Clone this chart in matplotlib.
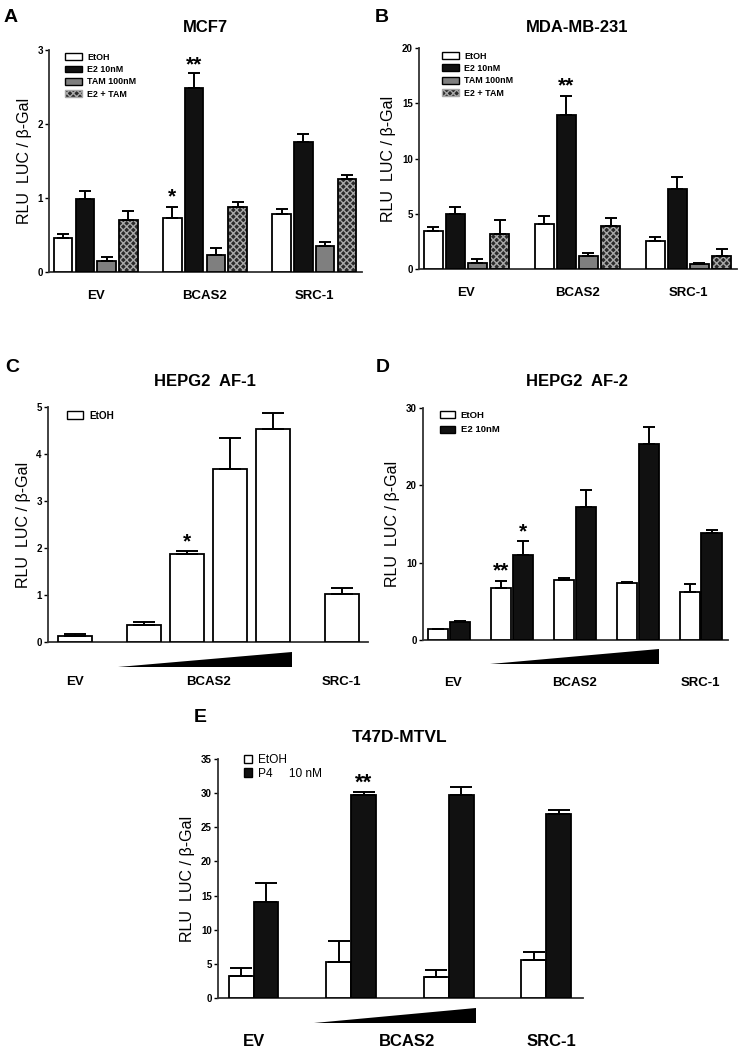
import numpy as np
import matplotlib
matplotlib.use("Agg")
import matplotlib.pyplot as plt
from matplotlib.patches import Patch, Polygon
from matplotlib.transforms import blended_transform_factory

plt.rcParams['font.family'] = ['Liberation Sans', 'DejaVu Sans']
plt.rcParams['hatch.linewidth'] = 1.0

# ---------------- data ----------------
groups3 = ['EV', 'BCAS2', 'SRC-1']
series_AB = ['EtOH', 'E2 10nM', 'TAM 100nM', 'E2 + TAM']

A_EtOH = [0.46, 0.73, 0.78];   A_EtOH_err = [0.05, 0.145, 0.07]
A_E2 = [0.98, 2.48, 1.76];     A_E2_err = [0.12, 0.21, 0.10]
A_TAM = [0.15, 0.23, 0.35];    A_TAM_err = [0.05, 0.09, 0.06]
A_E2TAM = [0.70, 0.875, 1.26]; A_E2TAM_err = [0.13, 0.075, 0.05]

B_EtOH = [3.47, 4.07, 2.56];   B_EtOH_err = [0.30, 0.70, 0.37]
B_E2 = [5.0, 13.97, 7.24];     B_E2_err = [0.60, 1.73, 1.06]
B_TAM = [0.54, 1.2, 0.45];     B_TAM_err = [0.40, 0.25, 0.09]
B_E2TAM = [3.2, 3.92, 1.2];    B_E2TAM_err = [1.26, 0.67, 0.64]

C_labels = ['EV', 'BCAS2', 'BCAS2', 'BCAS2', 'BCAS2', 'SRC-1']
C_EtOH = [0.12, 0.37, 1.87, 3.68, 4.54, 1.02]
C_EtOH_err = [0.04, 0.05, 0.06, 0.66, 0.33, 0.13]

D_labels = ['EV', 'BCAS2', 'BCAS2', 'BCAS2', 'SRC-1']
D_EtOH = [1.38, 6.78, 7.81, 7.34, 6.26]; D_EtOH_err = [0.05, 0.86, 0.17, 0.16, 0.94]
D_E2 = [2.37, 10.96, 17.26, 25.4, 13.9]; D_E2_err = [0.05, 1.84, 2.14, 2.2, 0.34]

E_labels = ['EV', 'BCAS2', 'BCAS2', 'SRC-1']
E_EtOH = [3.28, 5.29, 3.13, 5.53]; E_EtOH_err = [1.12, 3.08, 0.93, 1.22]
E_P4 = [14.1, 29.66, 29.66, 27.0]; E_P4_err = [2.7, 0.44, 1.24, 0.46]

DARK = '#111111'
GRAY = '#7f7f7f'

fig = plt.figure(figsize=(7.45, 10.59), dpi=100)
W, H = 745.0, 1059.0


def ax_px(l, t, r, b):
    return fig.add_axes([l / W, 1 - b / H, (r - l) / W, (b - t) / H])


def style(ax, yticks, ylim, xlim):
    for s in ['top', 'right']:
        ax.spines[s].set_visible(False)
    for s in ['left', 'bottom']:
        ax.spines[s].set_linewidth(1.3)
        ax.spines[s].set_color('#333333')
    ax.set_ylim(*ylim)
    ax.set_xlim(*xlim)
    ax.set_yticks(yticks)
    ax.set_yticklabels([str(t) for t in yticks], fontsize=7, fontweight='bold')
    ax.tick_params(axis='y', length=3, width=1.0, pad=1.5, direction='out')
    ax.set_xticks([])
    ax.set_ylabel('RLU  LUC / \u03b2-Gal', fontsize=11.5, labelpad=4)


def bars(ax, x, v, err, w, fc, cap, lw=1.3, hatch=None):
    if hatch:
        ax.bar(x, v, w, color='#2a2a2a', edgecolor='#a8a8a8', linewidth=0, hatch=hatch, zorder=2)
        ax.bar(x, v, w, color='none', edgecolor='black', linewidth=lw,
               yerr=[np.zeros(len(v)), err], capsize=cap,
               error_kw=dict(elinewidth=1.4, capthick=1.4, ecolor='black'), zorder=3)
    else:
        ax.bar(x, v, w, color=fc, edgecolor='black', linewidth=lw,
               yerr=[np.zeros(len(v)), err], capsize=cap,
               error_kw=dict(elinewidth=1.4, capthick=1.4, ecolor='black'), zorder=3)


def wedge(ax, x0, x1, y0, y1):
    tr = blended_transform_factory(ax.transData, ax.transAxes)
    p = Polygon([[x0, y0], [x1, y0], [x1, y1]], closed=True, transform=tr,
                facecolor='black', edgecolor='none', clip_on=False)
    ax.add_patch(p)


def cat_labels(ax, xs, labels, y, fs):
    tr = blended_transform_factory(ax.transData, ax.transAxes)
    for xx, lab in zip(xs, labels):
        ax.text(xx, y, lab, transform=tr, ha='center', va='center',
                fontsize=fs, fontweight='bold')


def legend(ax, handles, labels, anchor, size, weight, hl, hh, ls, htp=0.6):
    ax.legend(handles, labels, loc='upper left', bbox_to_anchor=anchor,
              frameon=False, prop=dict(size=size, weight=weight),
              handlelength=hl, handleheight=hh, labelspacing=ls,
              handletextpad=htp, borderpad=0, borderaxespad=0)


def panel_AB(ax, vals, errs, title, yticks, star_items, letter, lpos, tpos, lanchor):
    gx = np.arange(3) * 5.03
    fcs = ['white', DARK, GRAY, None]
    for j in range(4):
        bars(ax, gx + j, vals[j], errs[j], 0.85, fcs[j], 4.5,
             hatch='xxxxx' if j == 3 else None)
    style(ax, yticks, (0, yticks[-1]), (-0.65, gx[-1] + 3.7))
    handles = [Patch(facecolor='white', edgecolor='black', linewidth=1.0),
               Patch(facecolor=DARK, edgecolor='black', linewidth=1.0),
               Patch(facecolor=GRAY, edgecolor='black', linewidth=1.0),
               Patch(facecolor='#2a2a2a', edgecolor='#a8a8a8', hatch='xxxxx', linewidth=1.0)]
    legend(ax, handles, series_AB, lanchor, 6.4, 'bold', 1.9, 0.8, 0.38)
    cat_labels(ax, gx + 1.5, groups3, -0.11, 9.5)
    for (xx, yy, s) in star_items:
        ax.text(xx, yy, s, ha='center', va='center', fontsize=15, fontweight='bold')
    fig.text(tpos[0] / W, 1 - tpos[1] / H, title, ha='center', va='center',
             fontsize=12, fontweight='bold')
    fig.text(lpos[0] / W, 1 - lpos[1] / H, letter, ha='center', va='center',
             fontsize=14, fontweight='bold')


# ---------------- Panel A ----------------
axA = ax_px(49, 50, 362, 272)
gxA = np.arange(3) * 5.03
panel_AB(axA, [A_EtOH, A_E2, A_TAM, A_E2TAM],
         [A_EtOH_err, A_E2_err, A_TAM_err, A_E2TAM_err],
         'MCF7', [0, 1, 2, 3],
         [(gxA[1], 1.02, '*'), (gxA[1] + 1, 2.80, '**')],
         'A', (11, 17), (205, 28), (0.051, 0.988))

# ---------------- Panel B ----------------
axB = ax_px(419, 48, 737, 269)
panel_AB(axB, [B_EtOH, B_E2, B_TAM, B_E2TAM],
         [B_EtOH_err, B_E2_err, B_TAM_err, B_E2TAM_err],
         'MDA-MB-231', [0, 5, 10, 15, 20],
         [(gxA[1] + 1, 16.6, '**')],
         'B', (382, 17), (577, 27), (0.072, 0.984))

# ---------------- Panel C ----------------
axC = ax_px(48, 407, 368, 642)
xC = np.array([0, 1.6, 2.6, 3.6, 4.6, 6.2])
bars(axC, xC, C_EtOH, C_EtOH_err, 0.8, 'white', 8)
style(axC, [0, 1, 2, 3, 4, 5], (0, 5), (-0.63, 6.81))
legend(axC, [Patch(facecolor='white', edgecolor='black', linewidth=1.0)], ['EtOH'],
       (0.06, 0.985), 7.2, 'bold', 1.6, 0.8, 0.6)
wedge(axC, xC[1] - 0.6, xC[4] + 0.45, -0.106, -0.043)
cat_labels(axC, [xC[0], (xC[1] + xC[4]) / 2, xC[5]], ['EV', 'BCAS2', 'SRC-1'], -0.17, 9.5)
axC.text(xC[2], 2.13, '*', ha='center', va='center', fontsize=15, fontweight='bold')
fig.text(205 / W, 1 - 382 / H, 'HEPG2  AF-1', ha='center', va='center', fontsize=12, fontweight='bold')
fig.text(12 / W, 1 - 367 / H, 'C', ha='center', va='center', fontsize=14, fontweight='bold')

# ---------------- Panel D ----------------
axD = ax_px(423, 408, 728, 640)
gD = np.arange(5) * 3.0
bars(axD, gD - 0.52, D_EtOH, D_EtOH_err, 0.97, 'white', 4.5)
bars(axD, gD + 0.52, D_E2, D_E2_err, 0.97, DARK, 4.5)
style(axD, [0, 10, 20, 30], (0, 30), (-1.25, 13.3))
legend(axD, [Patch(facecolor='white', edgecolor='black', linewidth=1.0),
             Patch(facecolor=DARK, edgecolor='black', linewidth=1.0)], ['EtOH', 'E2 10nM'],
       (0.056, 0.988), 6.8, 'bold', 1.6, 0.8, 0.6)
wedge(axD, gD[1] - 1.05, gD[3] + 1.0, -0.104, -0.04)
cat_labels(axD, [gD[0] + 0.2, gD[2], gD[4]], ['EV', 'BCAS2', 'SRC-1'], -0.185, 9.5)
axD.text(gD[1] - 0.52, 9.0, '**', ha='center', va='center', fontsize=15, fontweight='bold')
axD.text(gD[1] + 0.52, 14.0, '*', ha='center', va='center', fontsize=15, fontweight='bold')
fig.text(577 / W, 1 - 382 / H, 'HEPG2  AF-2', ha='center', va='center', fontsize=12, fontweight='bold')
fig.text(383 / W, 1 - 367 / H, 'D', ha='center', va='center', fontsize=14, fontweight='bold')

# ---------------- Panel E ----------------
axE = ax_px(218, 759, 583, 998)
gE = np.arange(4) * 3.92
bars(axE, gE - 0.5, E_EtOH, E_EtOH_err, 1.0, 'white', 8)
bars(axE, gE + 0.5, E_P4, E_P4_err, 1.0, DARK, 8)
style(axE, [0, 5, 10, 15, 20, 25, 30, 35], (0, 35), (-1.43, 13.24))
legend(axE, [Patch(facecolor='white', edgecolor='black', linewidth=1.0),
             Patch(facecolor=DARK, edgecolor='black', linewidth=1.0)], ['EtOH', 'P4     10 nM'],
       (0.071, 1.02), 8.6, 'normal', 0.7, 0.7, 0.12, 0.5)
wedge(axE, gE[1] - 1.5, gE[2] + 1.1, -0.105, -0.042)
cat_labels(axE, [gE[0], gE[1] + 0.55 * (gE[2] - gE[1]) + 0.1, gE[3] + 0.2],
           ['EV', 'BCAS2', 'SRC-1'], -0.184, 12)
axE.text(gE[1] + 0.5, 31.5, '**', ha='center', va='center', fontsize=16, fontweight='bold')
fig.text(400 / W, 1 - 737 / H, 'T47D-MTVL', ha='center', va='center', fontsize=12.5, fontweight='bold')
fig.text(200 / W, 1 - 717 / H, 'E', ha='center', va='center', fontsize=14, fontweight='bold')

fig.savefig('out.png', dpi=100)
